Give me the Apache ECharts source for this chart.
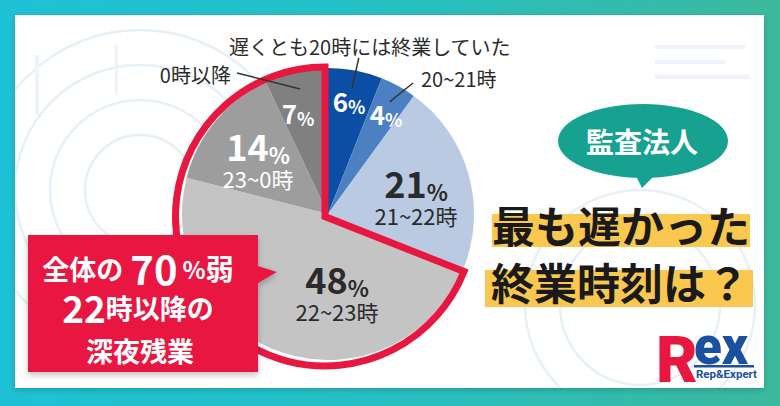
<!DOCTYPE html>
<html>
<head>
<meta charset="utf-8">
<script src="https://cdn.jsdelivr.net/npm/echarts@6/dist/echarts.min.js"></script>
<style>
html,body{margin:0;padding:0;background:#fff;}
#frame{position:relative;width:780px;height:406px;overflow:hidden;background:linear-gradient(90deg,#1ec1d4 0%,#25c0c6 45%,#3bb99d 100%);}
#card{position:absolute;left:15px;top:15px;width:749px;height:373px;background:#fff;box-shadow:0 2px 6px rgba(0,0,0,.18);overflow:hidden;}
#card svg{position:absolute;left:0;top:0;}
#chart{position:absolute;left:0;top:0;width:780px;height:406px;}
</style>
</head>
<body>
<div id="frame">
  <div id="card">
    <svg width="749" height="373" viewBox="0 0 749 373">
      <g fill="none" stroke="#e6f0f7" stroke-width="2.5">
        <circle cx="125" cy="175" r="55"/>
        <circle cx="125" cy="175" r="90"/>
        <circle cx="125" cy="175" r="125"/>
        <circle cx="125" cy="175" r="160"/>
        <circle cx="625" cy="290" r="80"/>
        <circle cx="625" cy="290" r="115"/>
      </g>
      <g fill="#eef4f9">
        <rect x="640" y="30" width="90" height="4"/>
        <rect x="640" y="45" width="70" height="4"/>
        <rect x="640" y="60" width="95" height="4"/>
        <rect x="20" y="40" width="4" height="60"/>
        <rect x="100" y="30" width="3" height="50"/>
      </g>
    </svg>
  </div>
  <div id="chart"></div>
</div>
<script>
// ---- data ----
var categories = ['遅くとも20時には終業していた', '20~21時', '21~22時', '22~23時', '23~0時', '0時以降'];
var values = [6, 4, 21, 48, 14, 7];
var lateGroup = [3, 4, 5]; // slices at 22時以降 (outlined in red)

// ---- style ----
var FONT = '"Noto Sans CJK JP", "Noto Sans CJK SC", sans-serif';
var LOGO_FONT = 'Roboto, Inter, "DejaVu Sans", sans-serif';
var RED = '#e8173f', TEAL = '#17a191', YELLOW = '#fac84e', BLUE = '#1b4f9f';
var CX = 328, CY = 214, R = 146;
var SLICE_COLORS = ['#0c4ea4', '#4b80c3', '#b9cae2', '#c4c4c4', '#9d9d9d', '#808080'];
var LABEL_COLORS = ['#fff', '#fff', '#2b2b2b', '#2b2b2b', '#fff', '#fff'];
var BIG = [0, 0, 1, 1, 1, 0];
var LABEL_OFFSETS = [[21, -114], [58, -101], [88, -19], [9, 77], [-70, -56], [-30, -102]];
var OUT_LABEL = [1, 1, 0, 0, 0, 1];
var LINE_LEN = [31, 21.5, 0, 0, 0, 16.5];
var LINE_LEN2 = [1, 13, 0, 0, 0, 59.5];
var OUT_NUDGE = [[11, -11.5, 'center'], [8, -4, 'left'], [0, 0, 'left'], [0, 0, 'left'], [0, 0, 'left'], [-6, 2, 'right']];

var lateSum = 0, earlySum = 0;
values.forEach(function (v, i) { if (lateGroup.indexOf(i) >= 0) lateSum += v; else earlySum += v; });

var chart = echarts.init(document.getElementById('chart'), null, { renderer: 'svg' });

var mainData = values.map(function (v, i) {
  return { value: v, name: categories[i], itemStyle: { color: SLICE_COLORS[i] }, label: { color: LABEL_COLORS[i] } };
});
var outData = values.map(function (v, i) {
  return {
    value: v, name: categories[i],
    label: { show: !!OUT_LABEL[i] },
    labelLine: { show: !!OUT_LABEL[i], length: LINE_LEN[i], length2: LINE_LEN2[i] }
  };
});

var option = {
  backgroundColor: 'transparent',
  animation: false,
  series: [
    {
      type: 'pie', z: 2, silent: true,
      center: [CX, CY], radius: R, startAngle: 90, clockwise: true,
      data: mainData,
      label: {
        show: true, position: 'inside', fontFamily: FONT,
        formatter: function (p) {
          var i = p.dataIndex;
          if (BIG[i]) return '{p|' + values[i] + '}{s|%}\n{n|' + categories[i] + '}';
          return '{q|' + values[i] + '}{t|%}';
        },
        rich: {
          p: { fontSize: 36, fontWeight: 'bold', lineHeight: 40, fontFamily: FONT },
          s: { fontSize: 22, fontWeight: 'bold', lineHeight: 30, verticalAlign: 'bottom', fontFamily: FONT },
          n: { fontSize: 22, lineHeight: 26, fontFamily: FONT },
          q: { fontSize: 26, fontWeight: 'bold', lineHeight: 29, fontFamily: FONT },
          t: { fontSize: 18, fontWeight: 'bold', lineHeight: 22, verticalAlign: 'bottom', fontFamily: FONT }
        }
      },
      labelLine: { show: false },
      labelLayout: function (p) {
        var o = LABEL_OFFSETS[p.dataIndex];
        return { x: CX + o[0], y: CY + o[1], align: 'center', verticalAlign: 'middle' };
      }
    },
    {
      type: 'pie', z: 3, silent: true,
      center: [CX - 3, CY + 2.5], radius: 149.5, startAngle: 90, clockwise: true,
      label: { show: false }, labelLine: { show: false },
      data: [
        { value: earlySum, itemStyle: { color: 'transparent', borderWidth: 0 } },
        { value: lateSum, itemStyle: { color: 'transparent', borderColor: RED, borderWidth: 7, borderJoin: 'miter' } }
      ]
    },
    {
      type: 'pie', z: 4, silent: true,
      center: [CX, CY], radius: 128, startAngle: 90, clockwise: true,
      avoidLabelOverlap: false,
      itemStyle: { color: 'transparent' },
      data: outData,
      label: { show: true, position: 'outside', formatter: '{b}', color: '#2b2b2b', fontSize: 20, fontFamily: FONT, overflow: 'none', distanceToLabelLine: 6 },
      labelLine: { show: true, smooth: false, lineStyle: { color: '#333', width: 1.5 } },
      labelLayout: function (p) {
        var pts = p.labelLinePoints;
        if (!pts || !OUT_LABEL[p.dataIndex]) return;
        var n = OUT_NUDGE[p.dataIndex], e = pts[pts.length - 1];
        return { x: e[0] + n[0], y: e[1] + n[1], align: n[2], verticalAlign: 'middle', labelLinePoints: [pts[0], e] };
      }
    }
  ],
  graphic: [
    // red callout
    { type: 'polygon', z: 100, silent: true,
      shape: { points: [[28, 235], [258, 235], [258, 266], [277, 272], [258, 283], [258, 372], [28, 372]] },
      style: { fill: RED, shadowBlur: 6, shadowOffsetY: 3, shadowColor: 'rgba(0,0,0,0.25)' } },
    { type: 'text', z: 101, silent: true,
      style: { x: 138, y: 268, align: 'center', verticalAlign: 'middle', fill: '#fff',
        text: '{a|全体の}{b|70}{c|%}{d|弱}',
        rich: {
          a: { fontSize: 27, fontWeight: 'bold', fontFamily: FONT, fill: '#fff' },
          b: { fontSize: 40, fontWeight: 'bold', fontFamily: FONT, fill: '#fff', padding: [0, 5, 0, 7] },
          c: { fontSize: 24, fontWeight: 'bold', fontFamily: FONT, fill: '#fff' },
          d: { fontSize: 28, fontWeight: 'bold', fontFamily: FONT, fill: '#fff' }
        } } },
    { type: 'text', z: 101, silent: true,
      style: { x: 138, y: 307, align: 'center', verticalAlign: 'middle', fill: '#fff',
        text: '{b|22}{a|時以降の}',
        rich: {
          a: { fontSize: 27, fontWeight: 'bold', fontFamily: FONT, fill: '#fff' },
          b: { fontSize: 37, fontWeight: 'bold', fontFamily: FONT, fill: '#fff' }
        } } },
    { type: 'text', z: 101, silent: true,
      style: { x: 140, y: 350, align: 'center', verticalAlign: 'middle', fill: '#fff',
        text: '深夜残業', fontSize: 27, fontWeight: 'bold', fontFamily: FONT } },
    // speech bubble
    { type: 'polygon', z: 100, silent: true, shape: { points: [[634, 172], [642, 188], [658, 172]] }, style: { fill: TEAL } },
    { type: 'ellipse', z: 100, silent: true, shape: { cx: 643, cy: 141, rx: 85, ry: 37 }, style: { fill: TEAL } },
    { type: 'text', z: 101, silent: true,
      style: { x: 642, y: 141, align: 'center', verticalAlign: 'middle', text: '監査法人', fill: '#fff', fontSize: 28, fontWeight: 'bold', fontFamily: FONT } },
    // title
    { type: 'rect', z: 100, silent: true, shape: { x: 492, y: 214, width: 258, height: 33 }, style: { fill: YELLOW } },
    { type: 'rect', z: 100, silent: true, shape: { x: 485, y: 270, width: 268, height: 37 }, style: { fill: YELLOW } },
    { type: 'text', z: 101, silent: true,
      style: { x: 621, y: 224, align: 'center', verticalAlign: 'middle', text: '最も遅かった', fill: '#1a1a1a', fontSize: 43, fontWeight: 'bold', fontFamily: FONT } },
    { type: 'text', z: 101, silent: true,
      style: { x: 620, y: 281, align: 'center', verticalAlign: 'middle', text: '終業時刻は？', fill: '#1a1a1a', fontSize: 43, fontWeight: 'bold', fontFamily: FONT } },
    // logo
    { type: 'text', z: 101, silent: true,
      style: { x: 656, y: 360, align: 'left', verticalAlign: 'middle', text: 'R', fill: RED, fontSize: 64, fontWeight: 900, fontFamily: LOGO_FONT } },
    { type: 'text', z: 101, silent: true,
      style: { x: 694, y: 346, align: 'left', verticalAlign: 'middle', text: 'ex', fill: BLUE, fontSize: 51, fontWeight: 900, fontFamily: LOGO_FONT } },
    { type: 'rect', z: 101, silent: true, shape: { x: 694, y: 365, width: 60, height: 2.5 }, style: { fill: BLUE } },
    { type: 'text', z: 101, silent: true,
      style: { x: 696, y: 374, align: 'left', verticalAlign: 'middle', text: 'Rep&Expert', fill: BLUE, fontSize: 11.5, fontWeight: 'bold', fontFamily: LOGO_FONT } }
  ]
};
chart.setOption(option);
</script>
</body>
</html>
